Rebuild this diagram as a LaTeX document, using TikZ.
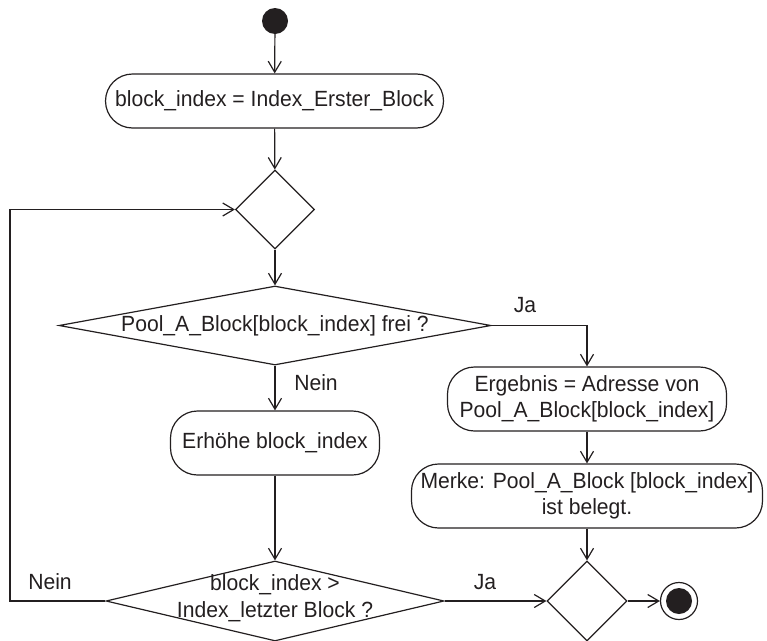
\documentclass[tikz,border=0pt]{standalone}
\usepackage{fontspec}
\setmainfont[FakeStretch=0.96]{Liberation Sans}
\usetikzlibrary{arrows.meta,shapes.geometric}
\definecolor{ink}{RGB}{35,31,32}
\begin{document}
\begin{tikzpicture}[x=1pt,y=-1pt,
  every node/.style={font=\fontsize{22}{26.5}\selectfont, text=ink},
  line/.style={draw=ink, line width=1.2pt},
  flow/.style={line, -{Straight Barb[length=11pt,width=13pt]}},
  action/.style={line, rectangle, rounded corners=27pt, inner sep=0pt, align=center},
  decision/.style={line, diamond, inner sep=0pt},
  lbl/.style={inner sep=0pt, align=center},
  dot/.style={circle, fill=ink, inner sep=0pt, minimum size=26pt}
]
\useasboundingbox (0,0) rectangle (767,640);

\node[dot] (start) at (275,21) {};
\node[action, minimum width=338pt, minimum height=54pt] (a1) at (274.5,101) {block\_index = Index\_Erster\_Block};
\node[decision, minimum width=79pt, minimum height=79pt] (d1) at (275,209.5) {};
\node[decision, minimum width=432pt, minimum height=79pt] (d2) at (275,325.5) {};
\node[lbl] (d2t) at (d2) {Pool\_A\_Block[block\_index] frei ?};
\node[action, minimum width=209pt, minimum height=64pt] (erh) at (275,443) {Erhöhe block\_index};
\node[decision, minimum width=338pt, minimum height=80pt] (d3) at (275,601) {};
\node[lbl] (d3t) at (275,598) {block\_index >\\Index\_letzter Block ?};
\node[action, minimum width=279pt, minimum height=64pt] (e1) at (587,399) {Ergebnis = Adresse von\\Pool\_A\_Block[block\_index]};
\node[action, minimum width=351pt, minimum height=64pt] (mk) at (587,496) {Merke: Pool\_A\_Block [block\_index]\\ist belegt.};
\node[decision, minimum width=80pt, minimum height=80pt] (m) at (587,601) {};
\node[circle, line, inner sep=0pt, minimum size=37pt] (end) at (679,601) {};
\node[dot] (endin) at (end) {};
\coordinate (lp) at (10,601);

\node[lbl] (ja1) at (525,305) {Ja};
\node[lbl] (nein1) at (316,383) {Nein};
\node[lbl] (nein2) at (50,582) {Nein};
\node[lbl] (ja2) at (485,582) {Ja};

\draw[flow] (start) -- (a1);
\draw[flow] (a1) -- (d1);
\draw[flow] (d1) -- (d2);
\draw[flow] (d2.east) -| (e1.north);
\draw[flow] (d2.south) -- (erh.north);
\draw[flow] (erh.south) -- (d3.north);
\draw[flow] (d3.west) -- (lp) |- (d1.west);
\draw[flow] (d3.east) -- (m.west);
\draw[flow] (e1) -- (mk);
\draw[flow] (mk) -- (m);
\draw[flow] (m.east) -- (end.west);
\end{tikzpicture}
\end{document}
